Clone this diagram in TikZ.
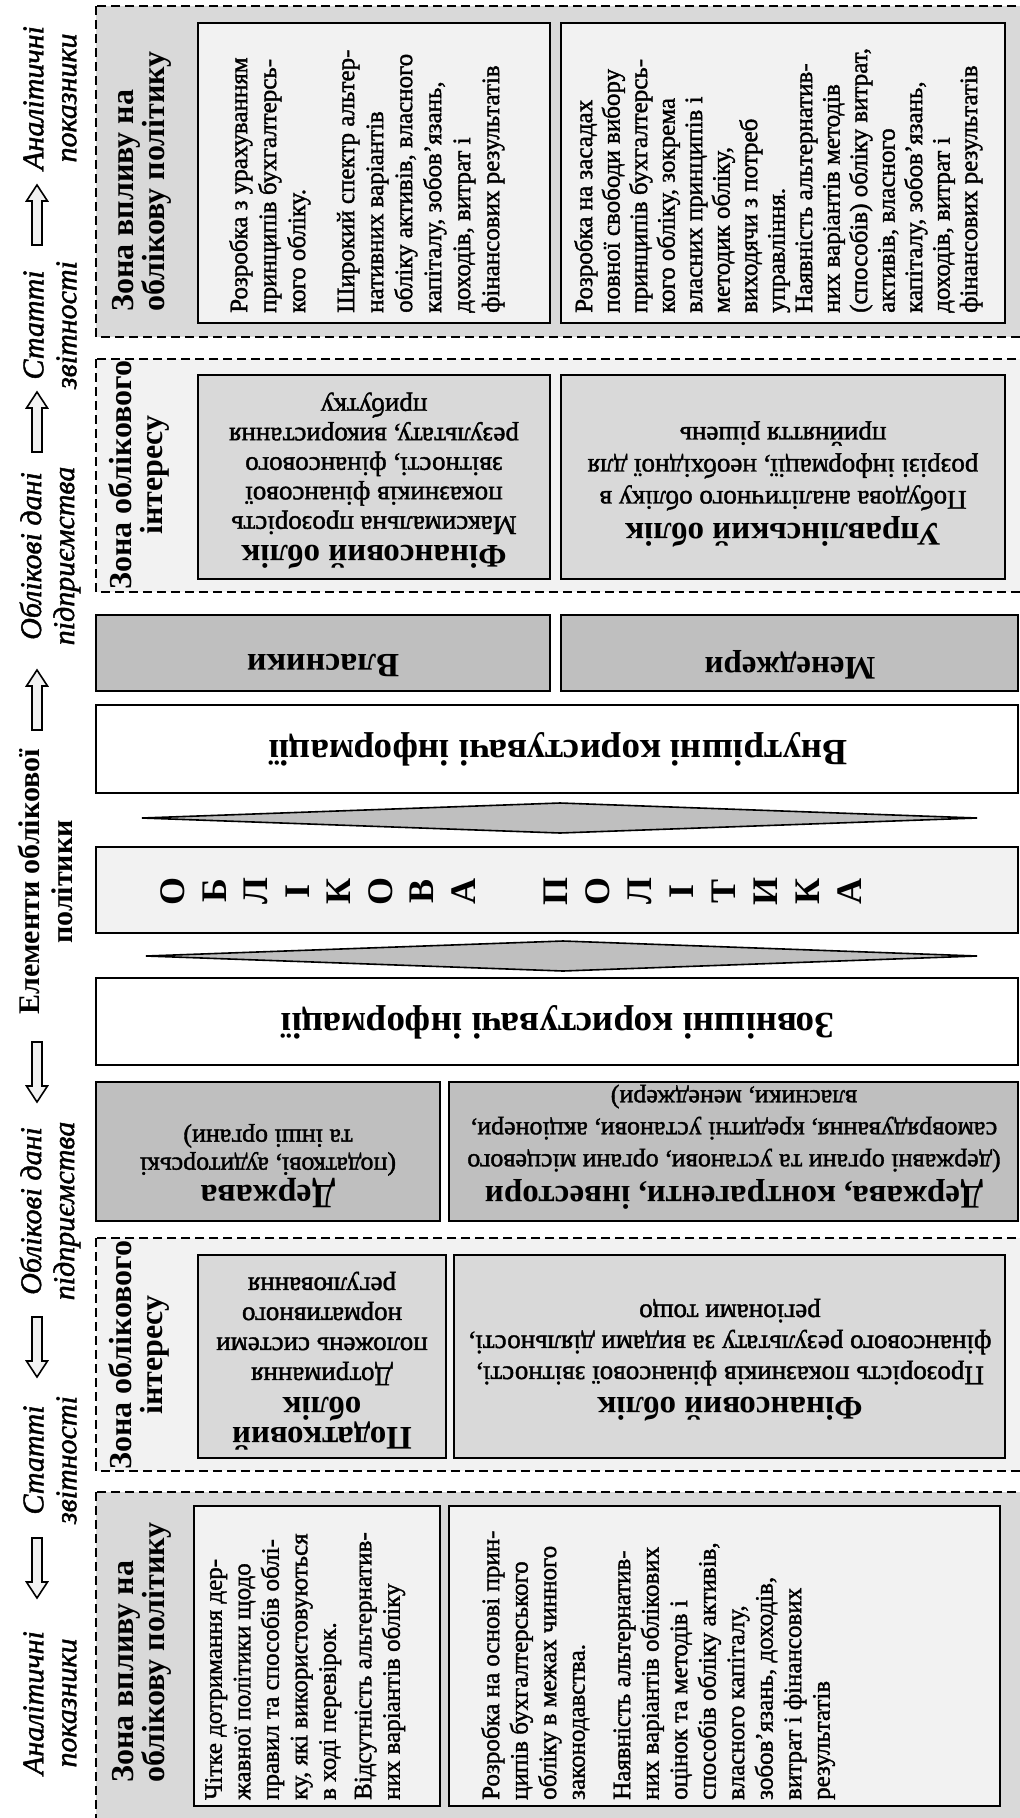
\documentclass[tikz,border=0pt]{standalone}
\usepackage{fontspec}
\setmainfont{Liberation Serif}[UprightFeatures={FakeBold=1.5}, ItalicFeatures={FakeBold=1.5}]
\definecolor{zoneDark}{HTML}{D9D9D9}
\definecolor{zoneLight}{HTML}{F2F2F2}
\definecolor{userGray}{HTML}{BFBFBF}
\newcommand\fsz[2]{\fontsize{#1}{#2}\selectfont}

\begin{document}
\begin{tikzpicture}[x=1pt,y=-1pt,
  zone/.style={draw=black, line width=2.3pt, dash pattern=on 9pt off 5pt},
  cell/.style={draw=black, line width=1.7pt, inner sep=0pt, outer sep=0pt, anchor=north west},
  uptext/.style={rotate=90, inner sep=0pt, anchor=north west, align=left},
  flipped/.style={rotate=180, inner sep=0pt, align=center},
  sidelabel/.style={rotate=90, inner sep=0pt, align=center, font=\fsz{30}{33}\itshape},
  zonetitle/.style={rotate=90, inner sep=0pt, font=\fsz{32}{31}\bfseries},
  lettercell/.style={rotate=90, inner sep=0pt, font=\fsz{36}{36}\bfseries},
  rhomb/.style={draw=black, line width=1.6pt, fill=userGray, line join=miter},
  arrowbody/.style={draw=black, line width=1.6pt, fill=zoneLight, line join=miter},
  uparr/.pic={\path[arrowbody] (0,0) -- (10.5,16) -- (5,16) -- (5,60) -- (-5,60) -- (-5,16) -- (-10.5,16) -- cycle;},
  downarr/.pic={\path[arrowbody] (0,60) -- (10.5,44) -- (5,44) -- (5,0) -- (-5,0) -- (-5,44) -- (-10.5,44) -- cycle;},
]
\useasboundingbox (0,0) rectangle (1020,1818);
\clip (0,0) rectangle (1020,1818);
\fill[white] (0,0) rectangle (1020,1818);

% ---------- side column: flow of indicators ----------
\node[sidelabel] (sideA1) at (50,98) {Аналітичні\\показники};
\node[sidelabel] (sideS1) at (50,325) {Статті\\звітності};
\node[sidelabel] (sideD1) at (50,556) {Облікові дані\\підприємства};
\node[sidelabel, font=\fsz{30}{33}\bfseries] (sideCore) at (45,882) {Елементи облікової\\політики};
\node[sidelabel] (sideD2) at (50,1211) {Облікові дані\\підприємства};
\node[sidelabel] (sideS2) at (50,1460) {Статті\\звітності};
\node[sidelabel] (sideA2) at (50,1703) {Аналітичні\\показники};

\pic at (37,185) {uparr};
\pic at (37,392) {uparr};
\pic at (37,670) {uparr};
\pic at (37,1042) {downarr};
\pic at (37,1317) {downarr};
\pic at (37,1538) {downarr};

% ---------- zone of influence (top) ----------
\draw[zone, fill=zoneDark] (96,6) rectangle (1030,337);
\node[zonetitle, anchor=north west, align=left] (titleTop) at (112,312) {Зона впливу на\\облікову політику};
\node[cell, fill=zoneLight, minimum width=352pt, minimum height=300pt] (topBoxL) at (198,23) {};
\node[cell, fill=zoneLight, minimum width=444pt, minimum height=300pt] (topBoxR) at (561,23) {};
\node[uptext, font=\fsz{25}{29}] (txtTopL) at (229,313) {Розробка з урахуванням\\принципів бухгалтерсь-\\кого обліку.\\[20pt]Широкий спектр альтер-\\нативних варіантів\\обліку активів, власного\\капіталу, зобов’язань,\\доходів, витрат і\\фінансових результатів};
\node[uptext, font=\fsz{25}{27.5}] (txtTopR) at (574,313) {Розробка на засадах\\повної свободи вибору\\принципів бухгалтерсь-\\кого обліку, зокрема\\власних принципів і\\методик обліку,\\виходячи з потреб\\управління.\\Наявність альтернатив-\\них варіантів методів\\(способів) обліку витрат,\\активів, власного\\капіталу, зобов’язань,\\доходів, витрат і\\фінансових результатів};

% ---------- zone of accounting interest (upper) ----------
\draw[zone, fill=zoneLight] (96,359) rectangle (1030,592);
\node[zonetitle, align=center] (titleMidA) at (139,475) {Зона облікового\\інтересу};
\node[cell, fill=zoneDark, minimum width=352pt, minimum height=204pt] (finA) at (198,375) {};
\node[cell, fill=zoneDark, minimum width=444pt, minimum height=204pt] (mgmtA) at (561,375) {};
\node[flipped, font=\fsz{27}{29.5}] (finAText) at (374,481) {{\fsz{33}{33}\bfseries Фінансовий облік}\\Максимальна прозорість\\показників фінансової\\звітності, фінансового\\результату, використання\\прибутку};
\node[flipped, font=\fsz{27}{32}] (mgmtAText) at (783,484) {{\fsz{33}{33}\bfseries Управлінський облік}\\Побудова аналітичного обліку в\\розрізі інформації, необхідної для\\прийняття рішень};

% ---------- internal users ----------
\node[cell, fill=userGray, minimum width=454pt, minimum height=76pt] (ownersBox) at (96,615) {};
\node[cell, fill=userGray, minimum width=457pt, minimum height=76pt] (managersBox) at (561,615) {};
\node[flipped, font=\fsz{34}{34}\bfseries] (ownersText) at (323,665) {Власники};
\node[flipped, font=\fsz{33}{33}\bfseries] (managersText) at (790,665) {Менеджери};
\node[cell, fill=white, minimum width=922pt, minimum height=88pt] (internalBox) at (96,705) {};
\node[flipped, font=\fsz{37}{37}\bfseries] (internalText) at (558,749) {Внутрішні користувачі інформації};

\path[rhomb] (142,818) -- (560,803) -- (977,818) -- (560,833) -- cycle;

% ---------- accounting policy ----------
\node[cell, fill=zoneLight, minimum width=922pt, minimum height=86pt] (policyBox) at (96,847) {};
\foreach \ch [count=\i from 0] in {О,Б,Л,І,К,О,В,А}
  \node[lettercell] (polA\i) at (173+41.5*\i,891) {\ch};
\foreach \ch [count=\i from 0] in {П,О,Л,І,Т,И,К,А}
  \node[lettercell] (polB\i) at (556+42*\i,891) {\ch};

\path[rhomb] (146,956) -- (563,941) -- (977,956) -- (563,971) -- cycle;

% ---------- external users ----------
\node[cell, fill=white, minimum width=922pt, minimum height=87pt] (externalBox) at (96,978) {};
\node[flipped, font=\fsz{37}{37}\bfseries] (externalText) at (558,1022) {Зовнішні користувачі інформації};
\node[cell, fill=userGray, minimum width=344pt, minimum height=139pt] (stateBox) at (96,1082) {};
\node[cell, fill=userGray, minimum width=569pt, minimum height=139pt] (partnersBox) at (449,1082) {};
\node[flipped, font=\fsz{26}{28}] (stateText) at (268,1166) {{\fsz{34}{34}\bfseries Держава}\\(податкові, аудиторські\\та інші органи)};
\node[flipped, font=\fsz{26}{32}] (partnersText) at (734,1147) {{\fsz{33}{33}\bfseries Держава, контрагенти, інвестори}\\(державні органи та установи, органи місцевого\\самоврядування, кредитні установи, акціонери,\\власники, менеджери)};

% ---------- zone of accounting interest (lower) ----------
\draw[zone, fill=zoneLight] (96,1238) rectangle (1030,1471);
\node[zonetitle, align=center] (titleMidB) at (139,1355) {Зона облікового\\інтересу};
\node[cell, fill=zoneDark, minimum width=248pt, minimum height=203pt] (taxBox) at (198,1255) {};
\node[cell, fill=zoneDark, minimum width=551pt, minimum height=203pt] (finB) at (454,1255) {};
\node[flipped, font=\fsz{27}{30}] (taxText) at (322,1361) {{\fsz{33}{33}\bfseries Податковий}\\{\fsz{33}{33}\bfseries облік}\\Дотримання\\положень системи\\нормативного\\регулювання};
\node[flipped, font=\fsz{27}{31}] (finBText) at (730,1360) {{\fsz{33}{33}\bfseries Фінансовий облік}\\Прозорість показників фінансової звітності,\\фінансового результату за видами діяльності,\\регіонами тощо};

% ---------- zone of influence (bottom) ----------
\draw[zone, fill=zoneDark] (96,1492) rectangle (1030,1830);
\node[zonetitle, anchor=north west, align=left] (titleBot) at (112,1783) {Зона впливу на\\облікову політику};
\node[cell, fill=zoneLight, minimum width=246pt, minimum height=300pt] (botBoxL) at (194,1506) {};
\node[cell, fill=zoneLight, minimum width=551pt, minimum height=300pt] (botBoxR) at (449,1506) {};
\node[uptext, font=\fsz{25}{28.5}] (txtBotL) at (205,1800) {Чітке дотримання дер-\\жавної політики щодо\\правил та способів облі-\\ку, які використовуються\\в ході перевірок.\\[7pt]Відсутність альтернатив-\\них варіантів обліку};
\node[uptext, font=\fsz{25}{28.5}] (txtBotR) at (481,1800) {Розробка на основі прин-\\ципів бухгалтерського\\обліку в межах чинного\\законодавства.\\[17pt]Наявність альтернатив-\\них варіантів облікових\\оцінок та методів і\\способів обліку активів,\\власного капіталу,\\зобов’язань, доходів,\\витрат і фінансових\\результатів};
\end{tikzpicture}
\end{document}
